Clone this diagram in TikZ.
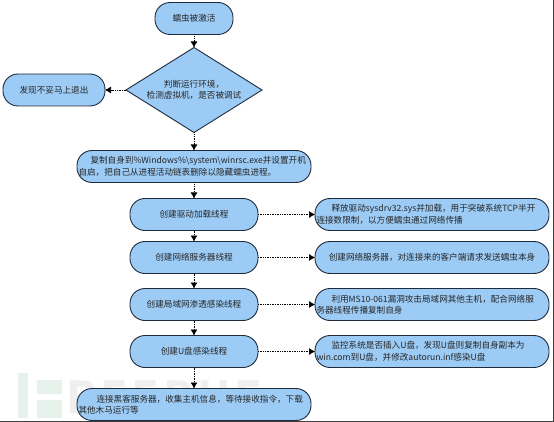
\documentclass[tikz,border=0pt]{standalone}
\usepackage{xcolor}
\usepackage{fontspec}
\setmainfont{Noto Sans CJK SC}
\usepackage{tikz}
\usetikzlibrary{shapes.geometric,arrows.meta,positioning}
\definecolor{wormblue}{HTML}{9CCBF5}
\definecolor{wormedge}{HTML}{1F2A3A}
\definecolor{markgreen}{HTML}{E8F2EC}
\definecolor{markgray}{HTML}{EFEFEF}
\newcommand{\indt}{\hspace*{15pt}}
\newcommand{\dou}{\symbol{"FF0C}}

\begin{document}
\begin{tikzpicture}[
  x=1pt, y=1pt,
  every node/.style={align=center, font=\fontsize{8.6}{11.5}\selectfont, text=black!85, inner sep=0pt, outer sep=0pt},
  pill/.style={draw=wormedge, fill=wormblue, line width=0.9pt, rounded corners=15pt, minimum height=32pt},
  main/.style={pill, minimum width=128pt},
  wide/.style={pill, minimum width=234pt, text width=231pt, align=left},
  judge/.style={draw=wormedge, fill=wormblue, line width=0.9pt, diamond, aspect=1.6, inner sep=-4pt, minimum width=136pt, minimum height=85pt},
  link/.style={densely dotted, line width=0.7pt, -{Latex[length=6pt,width=7pt]}},
  node distance=15pt
]
\useasboundingbox (0,0) rectangle (554,-422);

% faint watermark behind the last box
\fill[markgreen] (18,-373) rectangle (28,-418);
\fill[markgreen] (37,-380) rectangle (62,-394);
\fill[markgreen] (37,-400) rectangle (62,-418);
\node[font=\bfseries\fontsize{44}{44}\selectfont\addfontfeatures{LetterSpace=8}, text=markgray, anchor=west] (mark) at (66,-397) {REEBUF};

\draw[line width=0.9pt, black!75] (0,-421) -- (553,-421) -- (553,0);

\node[pill, minimum width=78pt] (start) at (194,-18.5) {蠕虫被激活};
\node[judge, below=13pt of start] (check) {判断运行环境\dou\\检测虚拟机\dou 是否被调试};
\node[pill, minimum width=102pt, left=21pt of check] (quit) {发现不妥马上退出};
\node[wide, below=18pt of check] (copy)
  {\hspace*{12pt}复制自身到\%Windows\%\textbackslash system\textbackslash winrsc.exe并设置开机\\自启\dou 把自己从进程活动链表删除以隐藏蠕虫进程。};

\node[main, below=16pt of copy] (driver) {创建驱动加载线程};
\node[main, below=11pt of driver] (server) {创建网络服务器线程};
\node[main, below=of server] (lan) {创建局域网渗透感染线程};
\node[main, below=of lan] (usb) {创建U盘感染线程};
\node[wide, below=21pt of usb] (last)
  {\hspace*{18pt}连接黑客服务器\dou 收集主机信息\dou 等待接收指令\dou 下载\\其他木马运行等};

\node[wide, right=57pt of driver] (driverinfo)
  {\indt 释放驱动sysdrv32.sys并加载\dou 用于突破系统TCP半开\\连接数限制\dou 以方便蠕虫通过网络传播};
\node[pill, minimum width=234pt, right=57pt of server] (serverinfo)
  {创建网络服务器\dou 对连接来的客户端请求发送蠕虫本身};
\node[wide, right=57pt of lan] (laninfo)
  {\indt 利用MS10-061漏洞攻击局域网其他主机\dou 配合网络服\\务器线程传播复制自身};
\node[wide, right=57pt of usb] (usbinfo)
  {\indt 监控系统是否插入U盘\dou 发现U盘则复制自身副本为\\win.com到U盘\dou 并修改autorun.inf感染U盘};

\foreach \a/\b in {start/check, check/copy, copy/driver, driver/server, server/lan, lan/usb, usb/last}
  \draw[link] (\a.south) -- (\b.north);
\foreach \a/\b in {driver/driverinfo, server/serverinfo, lan/laninfo, usb/usbinfo}
  \draw[link] (\a.east) -- (\b.west);
\draw[link] (check.west) -- (quit.east);
\end{tikzpicture}
\end{document}
